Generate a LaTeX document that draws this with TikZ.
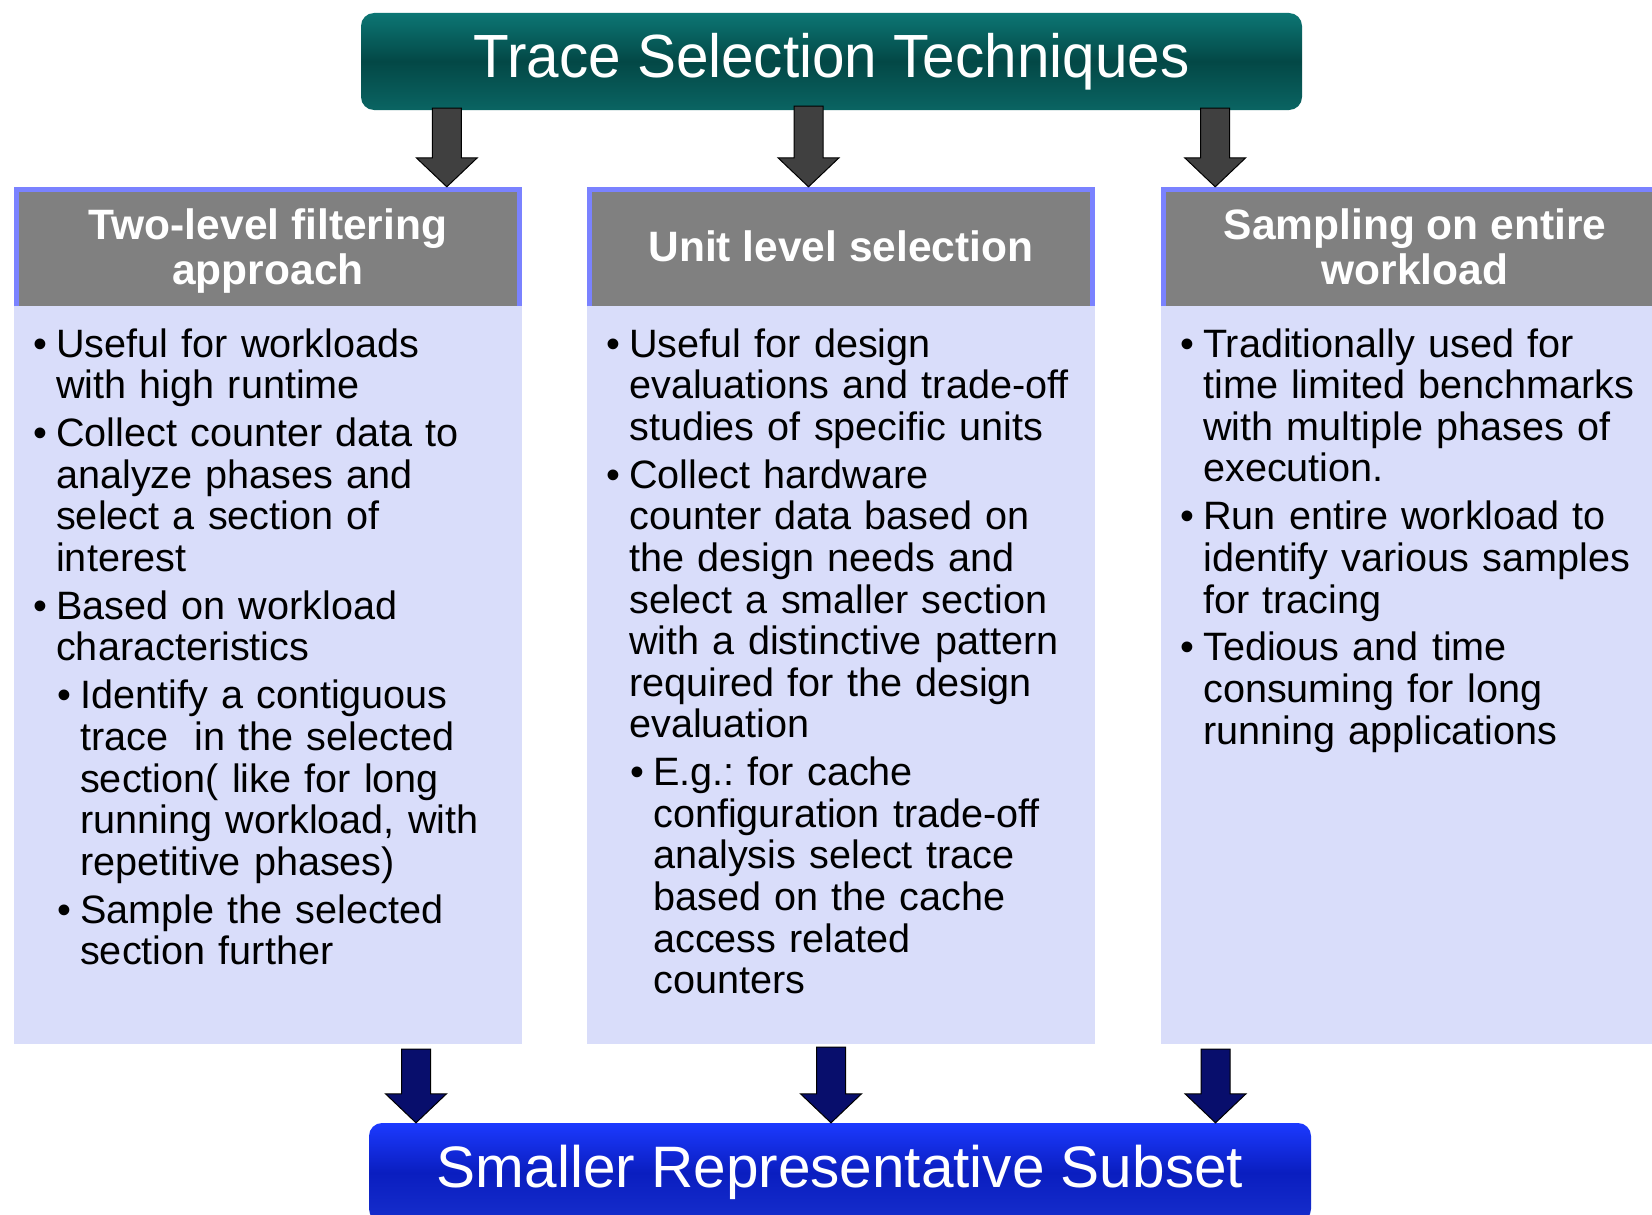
\documentclass[tikz,border=0pt]{standalone}
\usepackage{fontspec}
\setmainfont{Liberation Sans}
\usepackage{graphicx}
\usetikzlibrary{calc}

\definecolor{titletop}{RGB}{12,118,116}
\definecolor{titlemid}{RGB}{3,72,70}
\definecolor{headgray}{RGB}{128,128,128}
\definecolor{headline}{RGB}{122,130,255}
\definecolor{bodyfill}{RGB}{217,221,250}
\definecolor{arrowgray}{RGB}{64,64,64}
\definecolor{arrownavy}{RGB}{8,14,108}
\definecolor{resulttop}{RGB}{28,58,255}
\definecolor{resultmid}{RGB}{10,30,192}

\newcommand{\bul}[1]{\par\parskip=6.3pt\hangindent=23pt\hangafter=1\noindent\makebox[23pt][l]{\textbullet}#1\par}
\newcommand{\subbul}[1]{{\leftskip=24pt\bul{#1}}}
\newcommand{\topstrut}{\rule{0pt}{32pt}}
\frenchspacing

\begin{document}
\begin{tikzpicture}[x=1pt,y=-1pt]
        \tikzstyle{titlebox}=[rectangle,rounded corners=13pt,top color=titletop,bottom color=titletop!85!black,middle color=titlemid,text=white,minimum width=941pt,minimum height=97pt,inner sep=0pt,font=\fontsize{61}{61}\selectfont]
        \tikzstyle{resultbox}=[rectangle,rounded corners=13pt,top color=resulttop,bottom color=resulttop!80!black,middle color=resultmid,text=white,minimum width=942pt,minimum height=99pt,inner sep=0pt,font=\fontsize{58.5}{58.5}\selectfont]
        \tikzstyle{headbox}=[rectangle,fill=headgray,text=white,align=center,text depth=0pt,minimum width=508pt,minimum height=119pt,inner sep=0pt,font=\fontsize{42.5}{45}\selectfont\bfseries]
        \tikzstyle{bodybox}=[rectangle,fill=bodyfill,minimum width=508pt,minimum height=738pt,inner sep=0pt]
        \tikzstyle{listtext}=[anchor=north west,inner sep=0pt,text width=560pt,font=\fontsize{39.6}{41.6}\selectfont]
        \tikzstyle{headrim}=[draw=headline,line width=5pt]
        \tikzstyle{blockarrow}=[draw=black,line width=1pt,to path={let \p1=(\tikztostart), \p2=(\tikztotarget) in (\x1-14.5pt,\y1) -- (\x1-14.5pt,\y2+29pt) -- (\x1-30.5pt,\y2+29pt) -- (\x1,\y2) -- (\x1+30.5pt,\y2+29pt) -- (\x1+14.5pt,\y2+29pt) -- (\x1+14.5pt,\y1) -- cycle}]
        \tikzstyle{toparrow}=[blockarrow,fill=arrowgray]
        \tikzstyle{bottomarrow}=[blockarrow,fill=arrownavy]
        \useasboundingbox (0,0) rectangle (1652,1215);
        \clip (0,0) rectangle (1652,1215);
        \fill[white] (0,0) rectangle (1652,1215);
       \begin{scope}
         \node [bodybox] (body1) at (268,675) {};
         \node [bodybox] (body2) at (841,675) {};
         \node [bodybox] (body3) at (1415,675) {};
         \node [headbox] (head1) at (268,246.5) {Two-level filtering\\approach};
         \node [headbox] (head2) at (841,246.5) {Unit level selection};
         \node [headbox] (head3) at (1415,246.5) {Sampling on entire\\workload};
         \foreach \h in {head1,head2,head3}
           \draw[headrim] ([xshift=2.5pt]\h.south west) -- ([shift={(2.5pt,-2.5pt)}]\h.north west) -- ([shift={(-2.5pt,-2.5pt)}]\h.north east) -- ([xshift=-2.5pt]\h.south east);
       \end{scope}
       \begin{scope}
         \node [listtext] (list1) at (33,309) {%
           \bul{\topstrut Useful for workloads\newline with high runtime}
           \bul{Collect counter data to\newline analyze phases and\newline select a section of\newline interest}
           \bul{Based on workload\newline characteristics}
           \subbul{Identify a contiguous\newline trace\ \ in the selected\newline section( like for long\newline running workload, with\newline repetitive phases)}
           \subbul{Sample the selected\newline section further}};
         \node [listtext] (list2) at (606,309) {%
           \bul{\topstrut Useful for design\newline evaluations and trade-off\newline studies of specific units}
           \bul{Collect hardware\newline counter data based on\newline the design needs and\newline select a smaller section\newline with a distinctive pattern\newline required for the design\newline evaluation}
           \subbul{E.g.: for cache\newline configuration trade-off\newline analysis select trace\newline based on the cache\newline access related\newline counters}};
         \node [listtext] (list3) at (1180,309) {%
           \bul{\topstrut Traditionally used for\newline time limited benchmarks\newline with multiple phases of\newline execution.}
           \bul{Run entire workload to\newline identify various samples\newline for tracing}
           \bul{Tedious and time\newline consuming for long\newline running applications}};
       \end{scope}
       \begin{scope}
         \node [titlebox] (title) at (831.5,61.5) {\scalebox{0.958}[1]{Trace Selection Techniques}};
         \node [resultbox] (result) at (840,1172.5) {Smaller Representative Subset};
         \draw[toparrow] ([shift={(86pt,2pt)}]title.south west) to (head1.north);
         \draw[toparrow] ([shift={(-23pt,4pt)}]title.south) to (head2.north);
         \draw[toparrow] ([shift={(-87pt,2pt)}]title.south east) to (head3.north);
         \draw[bottomarrow] ([shift={(148pt,-5pt)}]body1.south) to (result.north);
         \draw[bottomarrow] ([shift={(-10pt,-3pt)}]body2.south) to (result.north);
         \draw[bottomarrow] ([shift={(-199.5pt,-5pt)}]body3.south) to (result.north);
       \end{scope}
\end{tikzpicture}
\end{document}
